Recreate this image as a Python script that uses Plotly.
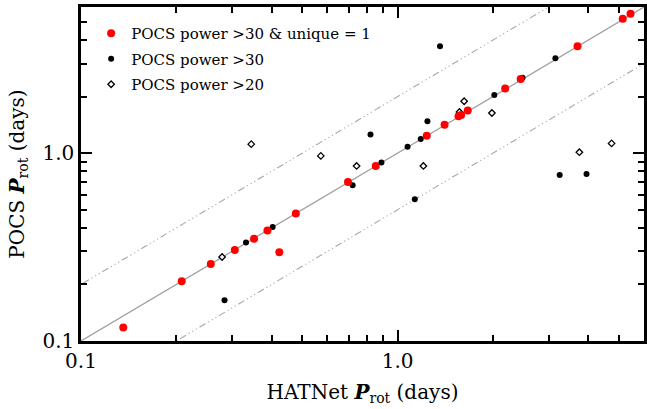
import numpy as np
import plotly.graph_objects as go

# Data: (HATNet Prot, POCS Prot) in days
red_x = [0.136, 0.208, 0.257, 0.306, 0.352, 0.388, 0.423, 0.477, 0.697, 0.853,
         1.236, 1.407, 1.557, 1.587, 1.665, 2.186, 2.447, 3.70, 5.14, 5.44]
red_y = [0.118, 0.208, 0.257, 0.305, 0.350, 0.388, 0.297, 0.477, 0.702, 0.855,
         1.238, 1.418, 1.572, 1.598, 1.685, 2.21, 2.48, 3.71, 5.20, 5.53]

blk_x = [0.284, 0.332, 0.403, 0.721, 0.821, 0.889, 1.075, 1.133, 1.183, 1.242,
         1.361, 2.02, 2.48, 3.15, 3.25, 3.95]
blk_y = [0.165, 0.334, 0.405, 0.674, 1.259, 0.892, 1.081, 0.569, 1.188, 1.479,
         3.71, 2.04, 2.52, 3.20, 0.765, 0.775]

dia_x = [0.279, 0.345, 0.572, 0.742, 1.206, 1.568, 1.622, 1.985, 3.75, 4.74]
dia_y = [0.280, 1.117, 0.967, 0.855, 0.855, 1.658, 1.89, 1.637, 1.012, 1.127]

x_range = [0.1, 6.0]
y_range = [0.1, 6.0]
major_ticks = [0.1, 1.0]
major_labels = ["0.1", "1.0"]
minor_ticks = [0.2, 0.3, 0.4, 0.5, 0.6, 0.7, 0.8, 0.9, 2, 3, 4, 5, 6, 7, 8, 9]

FONT = "DejaVu Serif"
fig = go.Figure()

xl = np.array([0.05, 20.0])
fig.add_trace(go.Scatter(x=xl, y=xl, mode="lines", line=dict(color="#a0a0a0", width=1.3),
                         showlegend=False, hoverinfo="skip"))
for f in (2.0, 0.5):
    fig.add_trace(go.Scatter(x=xl, y=xl * f, mode="lines",
                             line=dict(color="#a8a8a8", width=1.1,
                                       dash="7px,3px,1.2px,3px,1.2px,3px,1.2px,3px"),
                             showlegend=False, hoverinfo="skip"))

fig.add_trace(go.Scatter(x=dia_x, y=dia_y, mode="markers", name="POCS power >20",
                         legendrank=3, legendgroup="g3",
                         marker=dict(symbol="diamond", size=5, color="white",
                                     line=dict(color="black", width=1.3))))
fig.add_trace(go.Scatter(x=blk_x, y=blk_y, mode="markers", name="POCS power >30",
                         legendrank=2, legendgroup="g2",
                         marker=dict(symbol="circle", size=6, color="black",
                                     line=dict(width=0))))
fig.add_trace(go.Scatter(x=red_x, y=red_y, mode="markers",
                         name="POCS power >30 &amp; unique = 1",
                         legendrank=1, legendgroup="g1",
                         marker=dict(symbol="circle", size=8, color="#ff0000",
                                     line=dict(width=0))))

axis_common = dict(
    type="log", showgrid=False, zeroline=False,
    showline=True, linecolor="black", linewidth=2.5, mirror="allticks",
    ticks="inside", ticklen=11, tickwidth=2, tickcolor="black",
    tickmode="array", tickvals=major_ticks, ticktext=major_labels,
    tickfont=dict(family=FONT, size=20, color="black"),
    minor=dict(ticks="inside", ticklen=6, tickwidth=1.5, tickcolor="black",
               tickmode="array", tickvals=minor_ticks),
)

fig.update_xaxes(range=[np.log10(x_range[0]), np.log10(x_range[1])],
                 title=dict(text="HATNet <b><i>P</i></b><sub>rot</sub> (days)",
                            font=dict(family=FONT, size=20, color="black"),
                            standoff=14),
                 **axis_common)
fig.update_yaxes(range=[np.log10(y_range[0]), np.log10(y_range[1])],
                 title=dict(text="POCS <b><i>P</i></b><sub>rot</sub> (days)",
                            font=dict(family=FONT, size=20, color="black"),
                            standoff=13),
                 **axis_common)

fig.update_layout(
    width=647, height=409,
    margin=dict(l=81, r=0, t=7, b=68),
    paper_bgcolor="white", plot_bgcolor="white",
    showlegend=True,
    legend=dict(x=0.018, y=0.97, xanchor="left", yanchor="top",
                traceorder="grouped", tracegroupgap=3,
                bgcolor="rgba(0,0,0,0)", borderwidth=0,
                font=dict(family=FONT, size=15, color="black")),
)

fig.write_html("out.html")
